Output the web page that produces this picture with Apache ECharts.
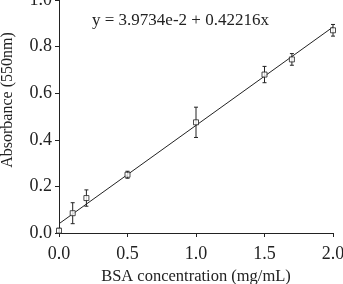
<!DOCTYPE html>
<html>
<head>
<meta charset="utf-8">
<script src="https://cdn.jsdelivr.net/npm/echarts@6/dist/echarts.min.js"></script>
<style>
  html, body { margin: 0; padding: 0; background: #fff; }
  #chart { width: 343px; height: 284px; }
</style>
</head>
<body>
<div id="chart"></div>
<script>
// BSA standard curve
const concentrations = [0, 0.1, 0.2, 0.5, 1.0, 1.5, 1.7, 2.0];
const absorbance = [0.01, 0.085, 0.15, 0.25, 0.475, 0.68, 0.745, 0.87];
const errors = [0.01, 0.045, 0.035, 0.015, 0.065, 0.035, 0.025, 0.025];
const intercept = 3.9734e-2;
const slope = 0.42216;
const fitRange = [0, 2];
const equationLabel = "y = 3.9734e-2 + 0.42216x";

const font = "'Liberation Serif', 'DejaVu Serif', serif";
const ink = "#222";

const points = concentrations.map((x, i) => [x, absorbance[i]]);
const errData = concentrations.map((x, i) => [x, absorbance[i] - errors[i], absorbance[i] + errors[i]]);
const fitLine = fitRange.map(x => [x, intercept + slope * x]);

const chart = echarts.init(document.getElementById("chart"), null, { renderer: "canvas" });

chart.setOption({
    animation: false,
    backgroundColor: "#fff",
    textStyle: { fontFamily: font },
    grid: { left: 59, right: 10, top: 0, bottom: 51, containLabel: false, outerBoundsMode: "none" },
    xAxis: {
        type: "value",
        min: 0,
        max: 2,
        interval: 0.5,
        name: "BSA concentration (mg/mL)",
        nameLocation: "middle",
        nameGap: 31,
        nameTextStyle: { fontFamily: font, fontSize: 16.5, color: ink, verticalAlign: "top" },
        axisLine: { show: true, lineStyle: { color: ink, width: 1 } },
        axisTick: { show: true, length: 4, lineStyle: { color: ink } },
        axisLabel: {
            fontFamily: font, fontSize: 18, color: ink, margin: 12,
            formatter: v => v.toFixed(1)
        },
        splitLine: { show: false }
    },
    yAxis: {
        type: "value",
        min: 0,
        max: 1,
        interval: 0.2,
        axisLine: { show: true, lineStyle: { color: ink, width: 1 } },
        axisTick: { show: true, length: 4, lineStyle: { color: ink } },
        axisLabel: {
            fontFamily: font, fontSize: 18, color: ink, margin: 7,
            verticalAlignMaxLabel: "middle",
            verticalAlignMinLabel: "middle",
            formatter: v => v.toFixed(1)
        },
        splitLine: { show: false }
    },
    graphic: [
        {
            type: "text",
            x: 8,
            y: 100,
            rotation: Math.PI / 2,
            style: {
                text: "Absorbance (550nm)",
                fontFamily: font,
                fontSize: 16,
                fill: ink,
                align: "center",
                verticalAlign: "middle"
            }
        },
        {
            type: "text",
            left: 92,
            top: 12,
            style: {
                text: equationLabel,
                fontFamily: font,
                fontSize: 17,
                fill: ink
            }
        }
    ],
    series: [
        {
            type: "line",
            data: fitLine,
            symbol: "none",
            lineStyle: { color: ink, width: 1 },
            z: 1
        },
        {
            type: "custom",
            data: errData,
            renderItem: (params, api) => {
                const x = api.value(0);
                const lo = api.coord([x, api.value(1)]);
                const hi = api.coord([x, api.value(2)]);
                const cap = 2;
                const style = { stroke: ink, lineWidth: 1 };
                return {
                    type: "group",
                    children: [
                        { type: "line", shape: { x1: lo[0], y1: lo[1], x2: hi[0], y2: hi[1] }, style },
                        { type: "line", shape: { x1: lo[0] - cap, y1: lo[1], x2: lo[0] + cap, y2: lo[1] }, style },
                        { type: "line", shape: { x1: hi[0] - cap, y1: hi[1], x2: hi[0] + cap, y2: hi[1] }, style }
                    ]
                };
            },
            z: 2
        },
        {
            type: "scatter",
            data: points,
            symbol: "rect",
            symbolSize: 5,
            itemStyle: { color: "#fff", borderColor: ink, borderWidth: 1 },
            z: 3
        }
    ]
});
</script>
</body>
</html>
